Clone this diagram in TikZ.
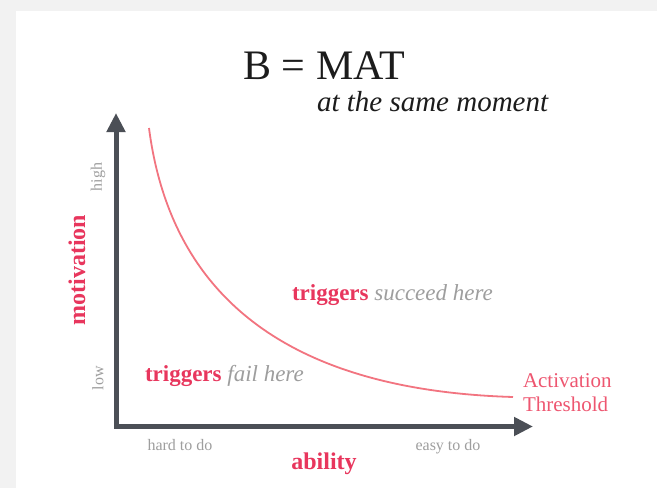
\documentclass[tikz,border=0pt]{standalone}
\usepackage{fontspec}
\setmainfont{Liberation Serif}
\usetikzlibrary{arrows.meta}
\definecolor{bgray}{HTML}{F2F2F2}
\definecolor{axisc}{HTML}{4B4F56}
\definecolor{redtxt}{HTML}{E8365D}
\definecolor{acttxt}{HTML}{EE5670}
\definecolor{curvec}{HTML}{F27480}
\definecolor{graytxt}{HTML}{9E9E9E}
\definecolor{titlec}{HTML}{1C1C1C}
\tikzset{
  lbl/.style={inner sep=0pt, outer sep=0pt},
  redbold/.style={lbl, text=redtxt, font=\fontsize{24}{28}\selectfont\bfseries},
  grayhint/.style={lbl, text=graytxt, font=\fontsize{16}{19}\selectfont},
  axisline/.style={draw=axisc, line width=5pt, line join=miter,
    {Triangle[length=19pt,width=18pt]}-{Triangle[length=19pt,width=18pt]}},
  threshold/.style={draw=curvec, line width=1.8pt},
}
\newcommand{\trig}{\textcolor{redtxt}{\bfseries triggers}}
\begin{document}
\begin{tikzpicture}[x=1pt,y=-1pt]
\useasboundingbox (0,0) rectangle (657,488);
\fill[bgray] (0,0) rectangle (657,488);
\fill[white] (16,11) rectangle (657,488);
% title
\node[lbl, anchor=base, text=titlec, font=\fontsize{42}{46}\selectfont] (title) at (324,79) {B = MAT};
\node[lbl, anchor=base west, text=titlec, font=\fontsize{29}{33}\selectfont\itshape] (sub) at (317,111) {at the same moment};
% axes
\coordinate (ytip) at (116,113);
\coordinate (origin) at (116,426.5);
\coordinate (xtip) at (533,426.5);
\draw[axisline] (ytip) -- (origin) -- (xtip);
% threshold curve
\coordinate (cstart) at (149,128);
\coordinate (cend) at (513,397);
\draw[threshold] (cstart) .. controls (170,290) and (280,390) .. (cend);
% axis labels
\node[redbold, rotate=90] (mot) at (77,270) {motivation};
\node[redbold, anchor=base] (abil) at (324,469) {ability};
\node[grayhint, rotate=90] (high) at (98,177) {high};
\node[grayhint, rotate=90] (low) at (98,378) {low};
\node[grayhint, anchor=base] (hard) at (180,450) {hard to do};
\node[grayhint, anchor=base] (easy) at (448,450) {easy to do};
% region labels
\node[lbl, anchor=base west, font=\fontsize{23}{27}\selectfont] (fail) at (145,381)
  {\trig\ \textcolor{graytxt}{\itshape fail here}};
\node[lbl, anchor=base west, font=\fontsize{23}{27}\selectfont] (succ) at (292,300)
  {\trig\ \textcolor{graytxt}{\itshape succeed here}};
\node[lbl, anchor=west, align=left, text=acttxt, font=\fontsize{21}{24}\selectfont] (act) at (523,393)
  {Activation\\Threshold};
\end{tikzpicture}
\end{document}
